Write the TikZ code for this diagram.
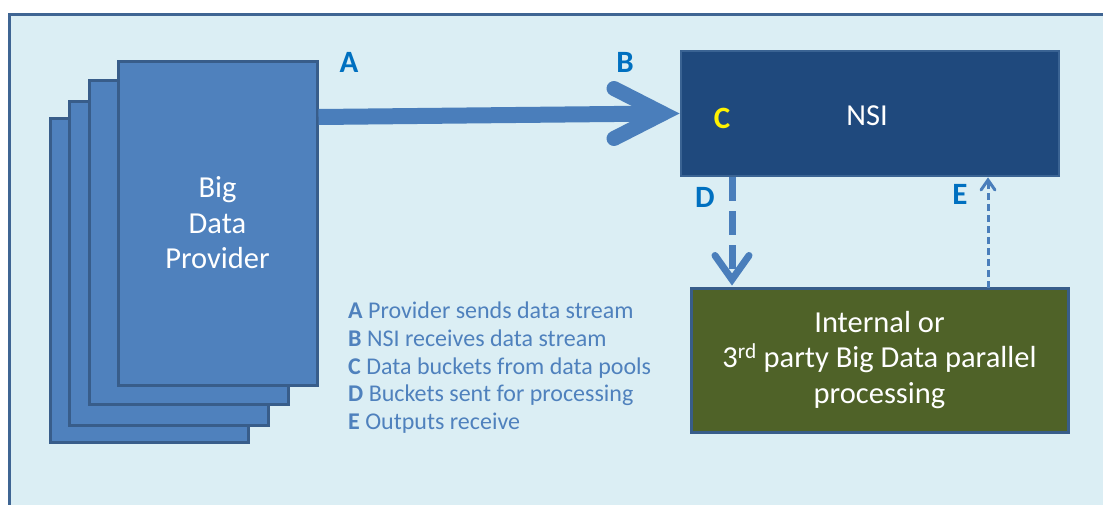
\documentclass[tikz,border=0pt]{standalone}
\usepackage{fontspec}
\setmainfont{Carlito}
\usetikzlibrary{calc}
\definecolor{bgblue}{HTML}{DBEEF4}
\definecolor{framec}{HTML}{3F6593}
\definecolor{pagefill}{HTML}{4F81BD}
\definecolor{pageedge}{HTML}{385D8A}
\definecolor{nsifill}{HTML}{1F497D}
\definecolor{nsiedge}{HTML}{3A6393}
\definecolor{greenfill}{HTML}{4F6228}
\definecolor{arrowc}{HTML}{4A7EBB}
\definecolor{labelc}{HTML}{0070C0}
\definecolor{legendc}{HTML}{4F81BD}
\tikzset{
  pagebox/.style={draw=pageedge, fill=pagefill, line width=3pt, inner sep=0pt},
  lbl/.style={text=labelc, font=\fontsize{31}{36}\selectfont\bfseries, inner sep=0pt},
  shaft/.style={draw=arrowc, line width=16pt},
  chev/.style={draw=arrowc, line cap=round, line join=miter},
  bigtext/.style={font=\fontsize{30.5}{35.5}\selectfont},
}
\begin{document}
\begin{tikzpicture}[x=1pt,y=-1pt]
\useasboundingbox (0,0) rectangle (1103,504);
\clip (0,0) rectangle (1103,504);
\fill[white] (0,0) rectangle (1103,504);
\draw[draw=framec, fill=bgblue, line width=3pt] (9.5,14.5) rectangle (1120,520);
% stacked pages
\node[pagebox, minimum width=198pt, minimum height=324pt] (p4) at (149,280) {};
\node[pagebox, minimum width=199pt, minimum height=324pt] (p3) at (168.5,263) {};
\node[pagebox, minimum width=199pt, minimum height=324pt] (p2) at (188.5,242) {};
\node[pagebox, minimum width=199pt, minimum height=324pt, text=white, align=center,
      bigtext] (p1) at (217.5,223) {Big\\Data\\Provider};
% NSI
\node[draw=nsiedge, fill=nsifill, line width=2pt, minimum width=378pt, minimum height=125pt,
      inner sep=0pt] (nsi) at (870,113.5) {};
\node[text=white, bigtext, inner sep=0pt] (nsit) at (867,116) {NSI};
\node[text=yellow, font=\fontsize{31}{36}\selectfont\bfseries, inner sep=0pt] (c) at (722,118) {C};
% processing box
\node[draw=pageedge, fill=greenfill, line width=3pt, minimum width=377pt, minimum height=144pt,
      inner sep=0pt, text=white, align=center, bigtext] (proc) at (879.5,360)
  {Internal or\\3\textsuperscript{rd} party Big Data parallel\\processing};
% arrow A
\coordinate (a0) at (p1.east |- 0,117);
\draw[shaft] (a0) -- ($(nsi.west)+(-17,0)$);
\draw[chev, line width=15pt] ($(nsi.west)+(-66,-25)$) -- ($(nsi.west)+(-17,0)$) -- ($(nsi.west)+(-66,25)$);
% arrow D
\coordinate (d0) at (732,177);
\draw[draw=arrowc, line width=7pt, dash pattern=on 24pt off 10pt] (d0) -- ($(d0 |- proc.north)+(0,-8)$);
\draw[chev, line width=7pt] ($(d0 |- proc.north)+(-17,-31)$) -- ($(d0 |- proc.north)+(0,-7)$) -- ($(d0 |- proc.north)+(17,-31)$);
% arrow E
\coordinate (e0) at (988,288);
\draw[draw=arrowc, line width=3pt, dash pattern=on 7pt off 4pt] (e0) -- ($(e0 |- nsi.south)+(0,2)$);
\draw[chev, line width=3pt] ($(e0 |- nsi.south)+(-7,13)$) -- ($(e0 |- nsi.south)+(0,3)$) -- ($(e0 |- nsi.south)+(7,13)$);
% labels
\node[lbl] (la) at (349,62) {A};
\node[lbl] (lb) at (625,62) {B};
\node[lbl] (ld) at (705,197) {D};
\node[lbl] (le) at (960,194) {E};
% legend
\node[anchor=north west, inner sep=0pt, align=left, text=legendc,
      font=\fontsize{24}{27.6}\selectfont] (legend) at (348,302)
  {\textbf{A} Provider sends data stream\\
   \textbf{B} NSI receives data stream\\
   \textbf{C} Data buckets from data pools\\
   \textbf{D} Buckets sent for processing\\
   \textbf{E} Outputs receive};
\end{tikzpicture}
\end{document}
